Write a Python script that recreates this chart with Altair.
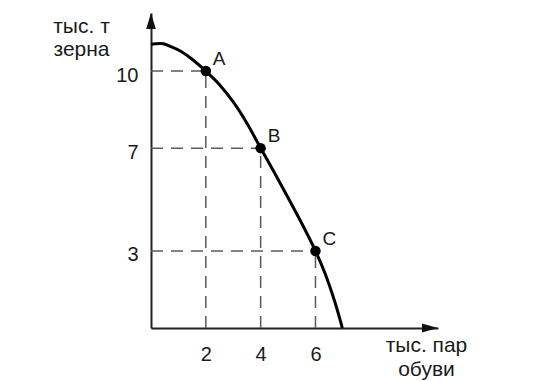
import altair as alt
import pandas as pd

# Production possibility curve
curve_x = [0.0, 0.4, 0.75, 1.1, 1.5, 2.0, 2.5, 3.0, 3.5, 4.0, 4.5, 5.0, 5.5, 6.0, 6.35, 6.7, 6.98]
curve_y = [11.04, 11.07, 10.94, 10.76, 10.46, 10.0, 9.47, 8.8, 7.97, 7.0, 6.05, 5.07, 4.07, 3.0, 2.12, 1.04, 0.0]

point_names = ["A", "B", "C"]
point_x = [2, 4, 6]
point_y = [10, 7, 3]

x_ticks = [2, 4, 6]
y_ticks = [3, 7, 10]
x_title = ["тыс. пар", "обуви"]
y_title = ["тыс. т", "зерна"]

x_max = 10.47
y_max = 12.26

FONT = "Liberation Sans"
TXT = "#1a1a1a"

curve_df = pd.DataFrame({"x": curve_x, "y": curve_y})
pts_df = pd.DataFrame({"name": point_names, "x": point_x, "y": point_y,
                       "zero": [0] * len(point_x)})
arrow_df = pd.DataFrame({"x": [x_max, 0.0], "y": [0.0, y_max], "dir": ["right", "up"]})

xs = alt.Scale(domain=[0, x_max], nice=False, zero=False)
ys = alt.Scale(domain=[0, y_max], nice=False, zero=False)

x_axis = alt.Axis(values=x_ticks, ticks=False, tickSize=0, grid=False,
                  domainColor="#222222", domainWidth=2,
                  labelFont=FONT, labelFontSize=20, labelColor=TXT,
                  labelPadding=16, labelBaseline="top",
                  title=x_title, titleFont=FONT, titleFontSize=21,
                  titleFontWeight="normal", titleColor=TXT,
                  titleAngle=0, titleAlign="center", titleBaseline="alphabetic",
                  titleX=275, titleY=23, titleLineHeight=24)

y_axis = alt.Axis(values=y_ticks, ticks=False, tickSize=0, grid=False,
                  domainColor="#222222", domainWidth=2,
                  labelFont=FONT, labelFontSize=20, labelColor=TXT,
                  labelPadding=13, labelOffset=4,
                  title=y_title, titleFont=FONT, titleFontSize=21,
                  titleFontWeight="normal", titleColor=TXT,
                  titleAngle=0, titleAlign="center", titleBaseline="alphabetic",
                  titleX=-70, titleY=19, titleLineHeight=23)

dash = [12, 8]

base_x = lambda f: alt.X(f, scale=xs, axis=x_axis)
base_y = lambda f: alt.Y(f, scale=ys, axis=y_axis)

h_dash = alt.Chart(pts_df).mark_rule(color="#5a5a5a", strokeWidth=1.5, strokeDash=dash).encode(
    x=base_x("zero:Q"),
    x2="x:Q",
    y=base_y("y:Q"),
)

v_dash = alt.Chart(pts_df).mark_rule(color="#5a5a5a", strokeWidth=1.5, strokeDash=dash).encode(
    x=base_x("x:Q"),
    y=base_y("zero:Q"),
    y2="y:Q",
)

curve = alt.Chart(curve_df).mark_line(color="#000000", strokeWidth=3, interpolate="catmull-rom").encode(
    x=base_x("x:Q"),
    y=base_y("y:Q"),
    order="x:Q",
)

points = alt.Chart(pts_df).mark_circle(color="#000000", opacity=1, size=110).encode(
    x=base_x("x:Q"),
    y=base_y("y:Q"),
)

labels = alt.Chart(pts_df).mark_text(font=FONT, fontSize=19, color=TXT,
                                     align="left", baseline="bottom", dx=7, dy=-2).encode(
    x=base_x("x:Q"),
    y=base_y("y:Q"),
    text="name:N",
)

arrow_right = "M0,0 L-2,-0.55 L-2,0.55 Z"
arrow_up = "M0,0 L-0.6,2 L0.6,2 Z"
arrows = alt.Chart(arrow_df).mark_point(filled=True, opacity=1, size=256, color="#111111",
                                        strokeWidth=0).encode(
    x=base_x("x:Q"),
    y=base_y("y:Q"),
    shape=alt.Shape("dir:N", scale=alt.Scale(domain=["right", "up"], range=[arrow_right, arrow_up]),
                    legend=None),
)

chart = alt.layer(h_dash, v_dash, curve, points, labels, arrows).properties(
    width=287,
    height=315,
    padding={"left": 143, "top": 5, "right": 87, "bottom": 53},
    autosize=alt.AutoSizeParams(type="none"),
    background="white",
).configure_view(stroke=None)

chart.save("out.html", embed_options={"renderer": "svg", "actions": False})
